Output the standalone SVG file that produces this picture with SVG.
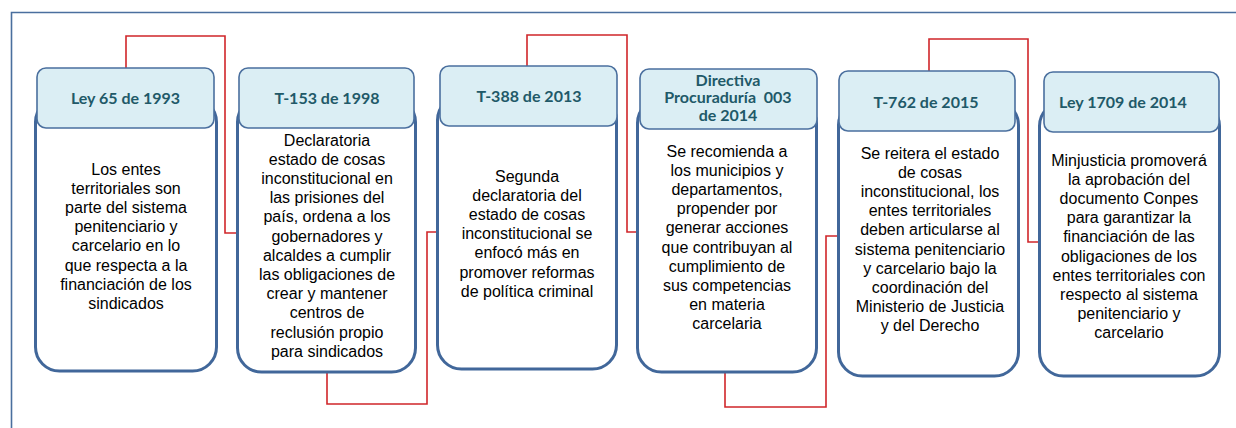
<svg xmlns="http://www.w3.org/2000/svg" width="1236" height="428" viewBox="0 0 1236 428">
<style>
.hd{fill:#DBEEF4;stroke:#4A6F9E;stroke-width:1.6}
.bd{fill:#FFFFFF;stroke:#41679A;stroke-width:3}
.ht{font-family:Lato,"Liberation Sans",sans-serif;font-weight:bold;font-size:16px;fill:#215968;text-anchor:middle}
.bt{font-family:"Liberation Sans",Arial,sans-serif;font-size:16px;fill:#000;text-anchor:middle}
.cn{fill:none;stroke:#D0262A;stroke-width:1.6}
</style>
<rect width="1236" height="428" fill="#FFFFFF"/>
<path d="M11.5,428 V12.5 H1236" fill="none" stroke="#4A6F9E" stroke-width="1.6"/>
<g id="connectors">
<path class="cn" d="M126,68 V36 H225 V233 H236"/>
<path class="cn" d="M327,373 V404 H427 V232 H436"/>
<path class="cn" d="M527,66 V35 H627 V232 H636"/>
<path class="cn" d="M725,373 V407 H826 V236 H837"/>
<path class="cn" d="M929,71 V39 H1028 V242 H1038"/>
</g>
<g id="n1">
<rect class="bd" x="35.5" y="98" width="181" height="273" rx="24"/>
<rect class="hd" x="37" y="68" width="177" height="60" rx="9"/>
<text class="ht" x="125.5" y="104">Ley 65 de 1993</text>
<text class="bt" y="174.5"><tspan x="126">Los entes</tspan><tspan x="126" dy="19.2">territoriales son</tspan><tspan x="126" dy="19.2">parte del sistema</tspan><tspan x="126" dy="19.2">penitenciario y</tspan><tspan x="126" dy="19.2">carcelario en lo</tspan><tspan x="126" dy="19.2">que respecta a la</tspan><tspan x="126" dy="19.2">financiación de los</tspan><tspan x="126" dy="19.2">sindicados</tspan></text>
</g>
<g id="n2">
<rect class="bd" x="237.5" y="98" width="178" height="274" rx="24"/>
<rect class="hd" x="239" y="68" width="175" height="60" rx="9"/>
<text class="ht" x="327" y="104">T-153 de 1998</text>
<text class="bt" y="145.5"><tspan x="327">Declaratoria</tspan><tspan x="327" dy="19.2">estado de cosas</tspan><tspan x="327" dy="19.2">inconstitucional en</tspan><tspan x="327" dy="19.2">las prisiones del</tspan><tspan x="327" dy="19.2">país, ordena a los</tspan><tspan x="327" dy="19.2">gobernadores y</tspan><tspan x="327" dy="19.2">alcaldes a cumplir</tspan><tspan x="327" dy="19.2">las obligaciones de</tspan><tspan x="327" dy="19.2">crear y mantener</tspan><tspan x="327" dy="19.2">centros de</tspan><tspan x="327" dy="19.2">reclusión propio</tspan><tspan x="327" dy="19.2">para sindicados</tspan></text>
</g>
<g id="n3">
<rect class="bd" x="437.5" y="96" width="179" height="273" rx="24"/>
<rect class="hd" x="440" y="66" width="177" height="60" rx="9"/>
<text class="ht" x="529" y="102">T-388 de 2013</text>
<text class="bt" y="181.5"><tspan x="527">Segunda</tspan><tspan x="527" dy="19.2">declaratoria del</tspan><tspan x="527" dy="19.2">estado de cosas</tspan><tspan x="527" dy="19.2">inconstitucional se</tspan><tspan x="527" dy="19.2">enfocó más en</tspan><tspan x="527" dy="19.2">promover reformas</tspan><tspan x="527" dy="19.2">de política criminal</tspan></text>
</g>
<g id="n4">
<rect class="bd" x="637.5" y="99" width="179" height="273" rx="24"/>
<rect class="hd" x="640" y="69" width="177" height="60" rx="9"/>
<text class="ht" y="86" xml:space="preserve"><tspan x="728">Directiva</tspan><tspan x="728" dy="17">Procuraduría  003</tspan><tspan x="728" dy="18">de 2014</tspan></text>
<text class="bt" y="156.5"><tspan x="727">Se recomienda a</tspan><tspan x="727" dy="19.2">los municipios y</tspan><tspan x="727" dy="19.2">departamentos,</tspan><tspan x="727" dy="19.2">propender por</tspan><tspan x="727" dy="19.2">generar acciones</tspan><tspan x="727" dy="19.2">que contribuyan al</tspan><tspan x="727" dy="19.2">cumplimiento de</tspan><tspan x="727" dy="19.2">sus competencias</tspan><tspan x="727" dy="19.2">en materia</tspan><tspan x="727" dy="19.2">carcelaria</tspan></text>
</g>
<g id="n5">
<rect class="bd" x="838.5" y="101" width="180" height="275" rx="24"/>
<rect class="hd" x="839" y="71" width="176" height="60" rx="9"/>
<text class="ht" x="926" y="108">T-762 de 2015</text>
<text class="bt" y="158.5"><tspan x="930">Se reitera el estado</tspan><tspan x="930" dy="19.2">de cosas</tspan><tspan x="930" dy="19.2">inconstitucional, los</tspan><tspan x="930" dy="19.2">entes territoriales</tspan><tspan x="930" dy="19.2">deben articularse al</tspan><tspan x="930" dy="19.2">sistema penitenciario</tspan><tspan x="930" dy="19.2">y carcelario bajo la</tspan><tspan x="930" dy="19.2">coordinación del</tspan><tspan x="930" dy="19.2">Ministerio de Justicia</tspan><tspan x="930" dy="19.2">y del Derecho</tspan></text>
</g>
<g id="n6">
<rect class="bd" x="1039.5" y="102" width="180" height="274" rx="24"/>
<rect class="hd" x="1044" y="72" width="175" height="60" rx="9"/>
<text class="ht" x="1123" y="108">Ley 1709 de 2014</text>
<text class="bt" y="165.5"><tspan x="1129">Minjusticia promoverá</tspan><tspan x="1129" dy="19.2">la aprobación del</tspan><tspan x="1129" dy="19.2">documento Conpes</tspan><tspan x="1129" dy="19.2">para garantizar la</tspan><tspan x="1129" dy="19.2">financiación de las</tspan><tspan x="1129" dy="19.2">obligaciones de los</tspan><tspan x="1129" dy="19.2">entes territoriales con</tspan><tspan x="1129" dy="19.2">respecto al sistema</tspan><tspan x="1129" dy="19.2">penitenciario y</tspan><tspan x="1129" dy="19.2">carcelario</tspan></text>
</g>
</svg>
